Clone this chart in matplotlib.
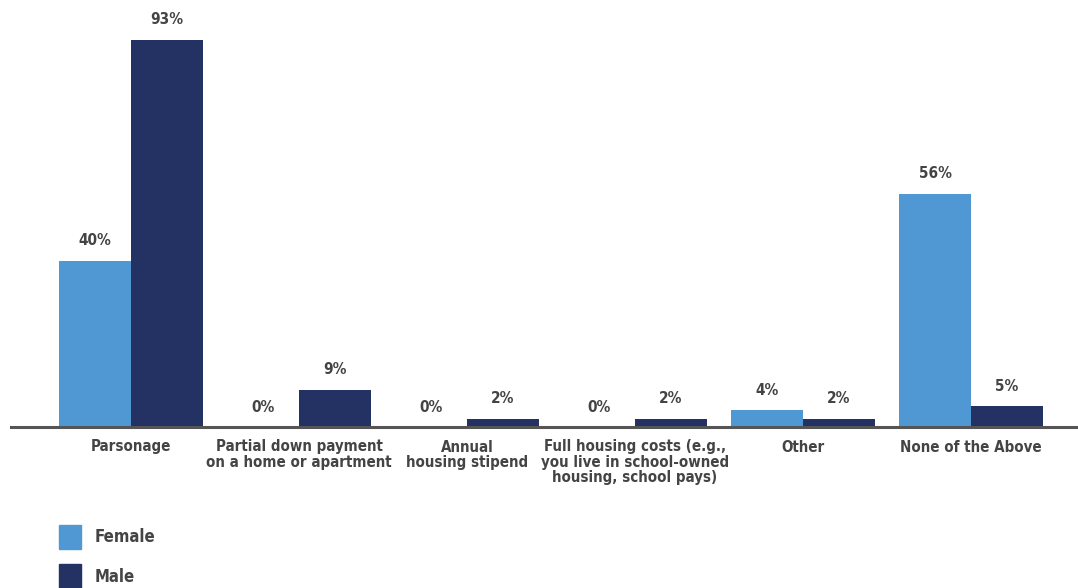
import matplotlib.pyplot as plt
import numpy as np
from matplotlib.patches import Patch

categories = ['Parsonage', 'Partial down payment\non a home or apartment', 'Annual\nhousing stipend',
              'Full housing costs (e.g.,\nyou live in school-owned\nhousing, school pays)', 'Other',
              'None of the Above']
female = [40, 0, 0, 0, 4, 56]
male = [93, 9, 2, 2, 2, 5]

c_female = '#5098d3'
c_male = '#233163'
txt = '#444444'
font = dict(family='DejaVu Sans', stretch='condensed', weight='bold', color=txt)

fig = plt.figure(figsize=(10.78, 5.88), dpi=100)
ax = fig.add_axes([11 / 1078, 1 - 427 / 588, 1 - 11 / 1078, 427 / 588])

x = np.arange(len(categories))
w = 72 / 168
ax.bar(x - w / 2, female, w, color=c_female)
ax.bar(x + w / 2, male, w, color=c_male)

for i in range(len(categories)):
    ax.text(x[i] - w / 2, female[i] + 3.0, f'{female[i]}%', ha='center', va='bottom', fontsize=11, **font)
    ax.text(x[i] + w / 2, male[i] + 3.0, f'{male[i]}%', ha='center', va='bottom', fontsize=11, **font)

ax.set_xlim((11 - 131) / 168, (1078 - 131) / 168)
ax.set_ylim(0, 102.6)
ax.set_xticks(x)
ax.set_xticklabels(categories, linespacing=1.02, fontsize=10.8, **font)
ax.tick_params(axis='x', length=0, pad=9)
ax.set_yticks([])
for s in ['top', 'right', 'left']:
    ax.spines[s].set_visible(False)
ax.spines['bottom'].set_color('#555555')
ax.spines['bottom'].set_linewidth(2.2)

handles = [Patch(color=c_female, label='Female'), Patch(color=c_male, label='Male')]
fig.legend(handles=handles, loc='upper left', bbox_to_anchor=(59 / 1078, 1 - 525 / 588), frameon=False,
           borderpad=0, borderaxespad=0,
           handlelength=1.32, handleheight=1.8, handletextpad=0.84, labelspacing=0.95,
           prop=dict(family='DejaVu Sans', stretch='condensed', weight='bold', size=12), labelcolor=txt)

fig.savefig('out.png', dpi=100)
